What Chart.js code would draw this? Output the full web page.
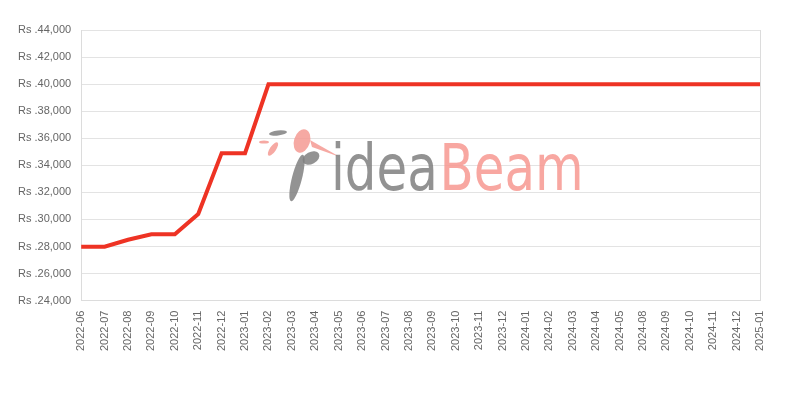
<!DOCTYPE html>
<html>
<head>
<meta charset="utf-8">
<script src="https://cdn.jsdelivr.net/npm/chart.js@4"></script>
<style>
  html, body { margin: 0; padding: 0; background: #fff; }
  #wrap { width: 800px; height: 400px; }
</style>
</head>
<body>
<div id="wrap"><canvas id="priceChart"></canvas></div>
<script>
const months = [
  '2022-06', '2022-07', '2022-08', '2022-09', '2022-10', '2022-11', '2022-12',
  '2023-01', '2023-02', '2023-03', '2023-04', '2023-05', '2023-06', '2023-07',
  '2023-08', '2023-09', '2023-10', '2023-11', '2023-12',
  '2024-01', '2024-02', '2024-03', '2024-04', '2024-05',
  '2024-08', '2024-09', '2024-10', '2024-11', '2024-12', '2025-01'
];

const prices = [
  27990, 27990, 28500, 28900, 28900, 30400, 34900,
  34900, 39990, 39990, 39990, 39990, 39990, 39990,
  39990, 39990, 39990, 39990, 39990,
  39990, 39990, 39990, 39990, 39990,
  39990, 39990, 39990, 39990, 39990, 39990
];

const yMin = 24000;
const yMax = 44000;
const yStep = 2000;

// watermark logo behind the line
const watermark = {
  id: 'watermark',
  beforeDatasetsDraw(chart) {
    const c = chart.ctx;
    c.save();
    c.globalAlpha = 0.85;
    // little bird / feather shapes
    c.fillStyle = '#808080';
    c.beginPath(); c.ellipse(278, 133, 9, 2.5, -0.1, 0, Math.PI * 2); c.fill();
    c.beginPath(); c.ellipse(297, 178, 5, 24, 0.25, 0, Math.PI * 2); c.fill();
    c.beginPath(); c.ellipse(311, 158, 9, 6, -0.5, 0, Math.PI * 2); c.fill();
    c.fillStyle = '#f59a93';
    c.beginPath(); c.ellipse(264, 142, 5, 1.6, 0, 0, Math.PI * 2); c.fill();
    c.beginPath(); c.ellipse(273, 149, 3, 8, 0.6, 0, Math.PI * 2); c.fill();
    c.beginPath(); c.ellipse(302, 141, 8, 12, 0.3, 0, Math.PI * 2); c.fill();
    c.beginPath(); c.moveTo(310, 140); c.lineTo(340, 157); c.lineTo(312, 147); c.closePath(); c.fill();
    // text, squeezed to the logo's narrow letters
    c.translate(331, 190);
    c.scale(0.78, 1);
    c.font = '64px "DejaVu Sans", sans-serif';
    c.textBaseline = 'alphabetic';
    c.fillStyle = '#7f7f7f';
    c.fillText('idea', 0, 0);
    const w = c.measureText('idea').width;
    c.fillStyle = '#f79890';
    c.fillText('Beam', w + 2, 0);
    c.restore();
  }
};

const data = {
  labels: months,
  datasets: [{
    label: 'Price',
    data: prices,
    borderColor: 'rgb(238, 51, 36)',
    backgroundColor: 'rgb(238, 51, 36)',
    borderWidth: 4,
    pointRadius: 0,
    tension: 0,
    fill: false
  }]
};

const config = {
  type: 'line',
  data: data,
  plugins: [watermark],
  options: {
    responsive: true,
    maintainAspectRatio: false,
    animation: false,
    layout: {
      padding: { top: 30, right: 40, bottom: 39, left: 8 }
    },
    plugins: {
      legend: { display: false },
      tooltip: { enabled: false }
    },
    scales: {
      x: {
        grid: {
          drawTicks: false,
          color: (ctx) => (ctx.index === months.length - 1) ? '#dcdcdc' : 'rgba(0,0,0,0)'
        },
        border: { display: true, color: '#dcdcdc' },
        ticks: {
          color: '#666',
          font: { size: 11 },
          minRotation: 90,
          maxRotation: 90,
          autoSkip: false,
          padding: 10
        }
      },
      y: {
        min: yMin,
        max: yMax,
        grid: { color: '#e3e3e3', drawTicks: false },
        border: { display: true, color: '#dcdcdc' },
        ticks: {
          stepSize: yStep,
          color: '#666',
          font: { size: 11 },
          padding: 10,
          callback: (v) => 'Rs .' + v.toLocaleString('en-US')
        }
      }
    }
  }
};

const ctx = document.getElementById('priceChart').getContext('2d');
const myChart = new Chart(ctx, config);
</script>
</body>
</html>
